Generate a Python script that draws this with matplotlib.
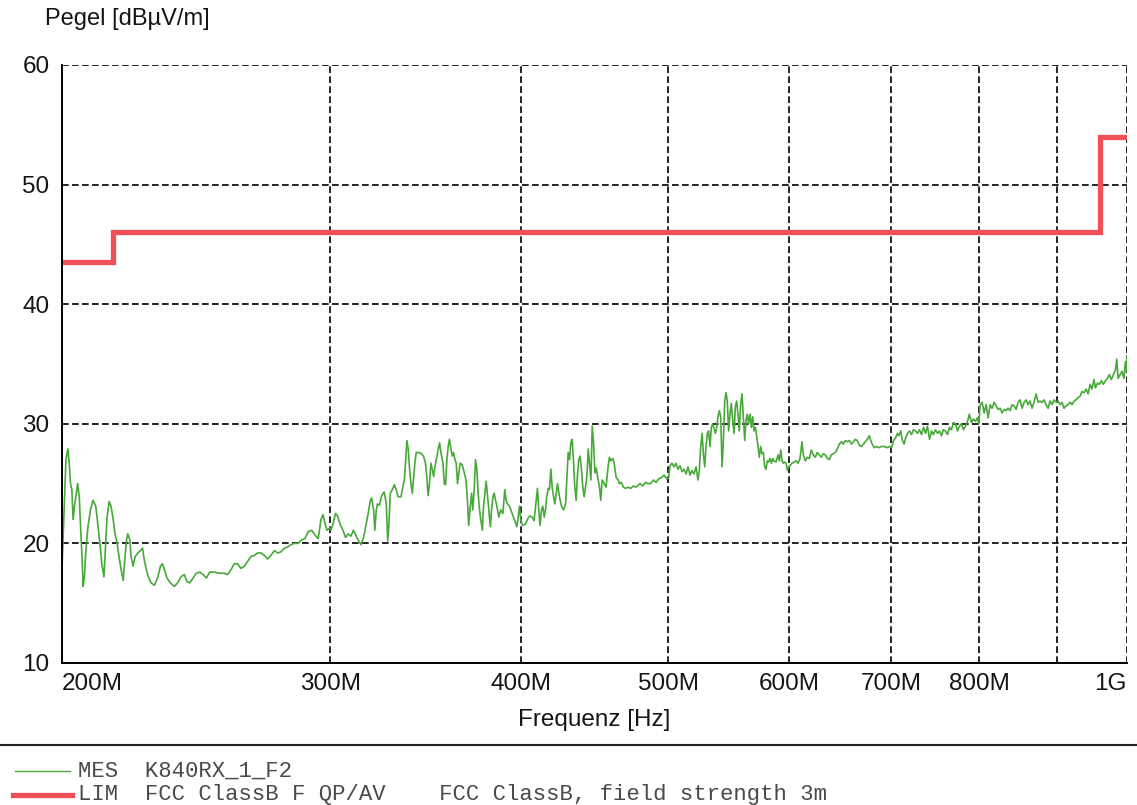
import matplotlib
matplotlib.use("Agg")
import matplotlib.pyplot as plt
from matplotlib.lines import Line2D
from matplotlib.ticker import NullLocator

plt.rcParams['font.family'] = ['Liberation Sans', 'DejaVu Sans']

# measured field strength (MHz, dBuV/m), split by frequency band
mes_200_300 = [
    (200.0, 17.8), (200.4, 20.9), (200.8, 23.9), (201.2, 27.0), (201.8, 27.9), (202.2, 26.7),
    (202.6, 25.0), (203.0, 24.5), (203.4, 22.0), (203.8, 23.1), (204.4, 24.2), (204.8, 25.0),
    (205.3, 23.9), (205.7, 21.4), (206.1, 19.2), (206.5, 16.4), (206.9, 17.2), (207.3, 19.2),
    (208.0, 21.4), (208.8, 22.8), (209.6, 23.6), (210.5, 23.1), (211.1, 21.7), (211.8, 20.0),
    (212.4, 18.3), (213.1, 17.2), (213.5, 19.2), (214.1, 22.2), (214.8, 23.5), (215.4, 23.1),
    (216.1, 22.0), (216.7, 20.8), (217.4, 20.0), (218.0, 18.9), (218.7, 17.8), (219.4, 16.9),
    (219.8, 18.3), (220.5, 20.3), (220.9, 20.8), (221.6, 20.3), (222.0, 18.9), (222.7, 18.1),
    (223.4, 18.9), (224.3, 19.2), (225.2, 19.4), (225.9, 19.6), (226.5, 18.6), (227.2, 17.8),
    (227.9, 17.2), (228.8, 16.7), (230.0, 16.5), (231.2, 17.2), (232.1, 18.1), (232.8, 18.3),
    (233.5, 17.8), (234.4, 17.1), (235.6, 16.7), (237.0, 16.4), (238.2, 16.7), (239.4, 17.2),
    (240.6, 17.4), (241.6, 16.8), (242.6, 16.7), (243.8, 17.1), (245.0, 17.5), (246.3, 17.6),
    (247.5, 17.4), (248.8, 17.1), (250.0, 17.6), (251.8, 17.6), (253.8, 17.5), (255.6, 17.5),
    (256.9, 17.4), (258.2, 17.8), (259.5, 18.3), (260.8, 18.3), (262.1, 17.9), (263.5, 18.1),
    (264.8, 18.5), (266.1, 18.9), (267.5, 19.0), (268.8, 19.2), (270.2, 19.2), (271.5, 19.0),
    (272.9, 18.7), (274.3, 19.0), (275.7, 19.4), (277.1, 19.2), (278.5, 19.3), (279.9, 19.6),
    (281.3, 19.7), (282.7, 19.9), (284.1, 20.0), (285.8, 20.0), (287.3, 20.3), (288.7, 20.4),
    (290.2, 21.0), (291.7, 21.1), (293.1, 20.7), (294.6, 20.4), (295.8, 22.0), (296.7, 22.4),
    (297.6, 21.7), (298.5, 21.1), (299.7, 21.3),
]

mes_300_450 = [
    (300.3, 21.1), (301.2, 21.6), (302.4, 22.5), (303.3, 22.3), (304.5, 21.6), (305.8, 21.1),
    (307.0, 20.5), (308.3, 20.8), (309.5, 20.6), (310.7, 21.1), (312.0, 20.6), (313.2, 20.2),
    (314.2, 19.9), (315.5, 20.5), (316.7, 21.6), (317.7, 22.5), (318.6, 23.5), (319.3, 23.8),
    (320.3, 22.8), (320.9, 21.1), (321.6, 22.8), (322.2, 23.3), (323.2, 23.2), (323.9, 23.8),
    (324.9, 24.2), (325.5, 24.3), (326.5, 23.3), (327.2, 20.2), (327.8, 21.6), (328.5, 24.2),
    (329.5, 24.5), (330.5, 24.9), (331.4, 24.5), (332.4, 23.9), (333.8, 23.9), (334.8, 24.7),
    (335.5, 25.3), (336.1, 26.7), (336.8, 28.6), (337.5, 27.9), (338.2, 26.2), (338.9, 25.0),
    (339.6, 24.2), (340.3, 25.6), (340.9, 26.7), (341.6, 27.6), (343.0, 27.6), (344.3, 27.5),
    (345.4, 27.3), (346.4, 26.7), (347.1, 25.6), (347.8, 24.0), (348.5, 25.0), (349.3, 26.7),
    (350.0, 26.2), (350.7, 25.6), (351.4, 26.4), (352.1, 27.0), (353.2, 27.9), (353.9, 28.4),
    (354.6, 27.6), (355.7, 26.7), (356.4, 25.0), (357.1, 24.9), (357.8, 27.0), (358.5, 28.1),
    (359.2, 28.7), (360.0, 27.9), (360.7, 27.3), (361.4, 27.6), (362.2, 27.0), (362.9, 26.7),
    (363.6, 25.0), (364.3, 25.9), (365.1, 26.7), (366.1, 26.6), (367.2, 26.0), (368.3, 25.3),
    (369.1, 23.6), (369.8, 21.5), (370.5, 22.8), (371.4, 24.2), (372.1, 22.8), (372.9, 24.5),
    (373.6, 27.0), (374.4, 26.2), (375.1, 24.2), (375.9, 22.8), (376.7, 21.9), (377.5, 21.1),
    (378.2, 23.1), (379.0, 24.2), (379.7, 25.2), (380.5, 23.9), (381.2, 22.8), (382.1, 21.4),
    (382.8, 22.8), (383.6, 23.9), (384.3, 24.2), (385.1, 23.6), (385.9, 23.1), (387.0, 22.2),
    (388.2, 22.8), (389.4, 22.5), (390.5, 24.5), (391.3, 23.6), (392.1, 23.3), (393.3, 23.1),
    (394.9, 22.5), (396.5, 21.9), (397.7, 21.4), (398.5, 22.2), (399.3, 23.1), (400.1, 21.9),
    (401.3, 21.5), (402.9, 21.6), (404.5, 22.1), (405.7, 22.3), (407.0, 22.2), (408.2, 21.9),
    (409.5, 23.6), (410.3, 24.6), (411.1, 22.8), (411.9, 21.5), (412.8, 22.8), (413.6, 23.1),
    (414.5, 22.2), (415.3, 22.8), (416.1, 23.9), (417.0, 24.6), (417.8, 24.5), (418.7, 26.2),
    (419.5, 24.7), (420.4, 23.9), (421.2, 23.3), (422.1, 24.2), (422.9, 25.0), (423.8, 24.2),
    (424.6, 23.6), (425.5, 23.1), (426.8, 22.8), (428.1, 23.3), (429.0, 25.6), (429.8, 27.6),
    (430.7, 27.0), (431.5, 28.4), (432.4, 28.7), (433.2, 27.0), (434.1, 24.7), (435.0, 23.6),
    (435.8, 25.6), (436.7, 27.0), (437.6, 27.3), (438.5, 26.2), (439.4, 24.7), (440.3, 23.9),
    (441.2, 24.7), (442.1, 25.6), (443.0, 27.9), (443.8, 26.7), (444.8, 25.3), (445.7, 29.8),
    (446.6, 28.4), (447.5, 25.9), (448.4, 26.3), (449.3, 25.6), (450.6, 24.7), (451.5, 23.6),
]

mes_450_680 = [
    (452.4, 25.3), (453.8, 25.0), (455.1, 24.7), (456.5, 26.4), (457.4, 27.2), (458.4, 26.9),
    (459.8, 27.1), (460.7, 26.7), (462.1, 25.5), (463.5, 25.3), (464.4, 25.0), (465.8, 25.1),
    (467.2, 24.7), (468.6, 24.6), (470.5, 24.7), (472.4, 24.6), (474.3, 24.8), (475.7, 24.7),
    (477.2, 24.8), (479.1, 25.0), (481.0, 24.8), (483.0, 25.1), (484.9, 25.0), (486.9, 25.0),
    (488.9, 25.3), (490.8, 25.1), (492.8, 25.4), (494.8, 25.5), (496.8, 25.7), (498.8, 25.4),
    (500.3, 25.5), (501.3, 26.5), (502.8, 26.7), (504.3, 26.4), (505.8, 26.7), (507.4, 26.2),
    (508.9, 26.5), (510.5, 26.0), (512.1, 26.2), (513.6, 25.8), (515.1, 26.4), (516.7, 25.7),
    (518.2, 26.1), (519.8, 25.8), (521.4, 26.4), (522.9, 25.3), (524.0, 26.1), (525.1, 28.1),
    (526.2, 29.2), (527.2, 27.5), (528.3, 26.4), (529.3, 28.1), (530.4, 29.2), (531.4, 29.4),
    (532.5, 28.1), (533.6, 29.7), (534.7, 30.0), (535.8, 29.6), (536.9, 29.2), (537.9, 29.7),
    (539.0, 30.6), (540.1, 31.1), (541.2, 30.6), (542.3, 26.4), (543.4, 28.6), (544.5, 31.9),
    (545.6, 32.6), (546.6, 31.9), (547.7, 29.4), (548.8, 30.8), (549.9, 31.7), (551.1, 30.3),
    (552.2, 29.2), (553.3, 31.4), (554.4, 31.9), (555.5, 30.8), (556.6, 29.4), (557.8, 31.7),
    (558.9, 32.5), (560.0, 30.6), (561.2, 28.6), (562.3, 30.3), (563.4, 30.8), (564.5, 30.0),
    (565.7, 30.8), (566.9, 29.7), (568.0, 30.6), (569.1, 29.4), (570.3, 29.7), (571.4, 29.0),
    (572.6, 28.1), (573.7, 27.2), (574.9, 28.1), (576.1, 27.5), (577.2, 27.6), (578.4, 26.4),
    (579.5, 26.2), (580.7, 26.9), (581.8, 26.8), (583.0, 27.1), (584.3, 26.7), (585.5, 27.1),
    (586.6, 26.9), (588.4, 26.8), (590.2, 27.4), (591.3, 26.9), (592.6, 27.8), (593.8, 26.9),
    (595.0, 26.7), (596.2, 26.8), (597.4, 26.7), (598.6, 26.1), (599.8, 26.4), (600.9, 26.5),
    (602.8, 26.7), (604.6, 26.8), (606.4, 26.9), (608.3, 26.7), (610.1, 27.1), (611.9, 28.5),
    (613.2, 27.4), (615.0, 26.9), (616.8, 27.2), (618.7, 27.1), (620.6, 27.8), (622.5, 27.4),
    (624.4, 27.2), (626.2, 27.6), (628.1, 27.4), (630.1, 27.2), (632.0, 27.5), (633.9, 27.4),
    (635.8, 27.1), (637.7, 27.0), (639.7, 27.4), (641.7, 27.5), (643.6, 27.6), (645.5, 27.9),
    (647.5, 28.3), (649.5, 28.5), (651.4, 28.3), (653.4, 28.6), (655.3, 28.5), (657.3, 28.6),
    (659.4, 28.3), (661.3, 28.5), (663.3, 28.7), (665.3, 28.6), (667.4, 28.2), (669.4, 28.1),
    (671.4, 28.3), (673.4, 28.5), (675.4, 28.7), (677.4, 29.0),
]

mes_680_1000 = [
    (679.0, 28.6), (680.4, 28.3), (682.4, 28.0), (684.6, 28.1), (687.3, 28.0), (690.1, 28.1),
    (692.8, 28.1), (695.7, 28.0), (698.5, 28.1), (700.6, 28.0), (702.7, 28.6), (704.8, 28.8),
    (706.9, 29.2), (708.3, 29.0), (710.5, 29.4), (711.9, 28.7), (714.0, 28.3), (715.6, 28.8),
    (717.8, 29.2), (719.9, 29.4), (722.1, 29.1), (724.2, 29.5), (726.5, 29.4), (728.7, 29.2),
    (730.9, 29.5), (733.1, 29.1), (735.3, 29.7), (737.5, 29.2), (739.7, 29.8), (742.0, 28.7),
    (744.2, 29.4), (746.4, 29.1), (748.7, 29.5), (751.0, 29.2), (753.2, 29.4), (755.5, 29.0),
    (757.7, 29.5), (760.1, 29.4), (762.4, 29.1), (764.7, 29.7), (767.0, 29.5), (769.3, 30.1),
    (771.7, 30.0), (774.0, 29.4), (776.4, 29.8), (778.7, 30.0), (781.0, 29.5), (783.4, 29.8),
    (785.8, 30.2), (788.1, 30.8), (790.5, 30.1), (792.9, 30.4), (795.4, 30.2), (797.8, 30.5),
    (799.4, 30.0), (801.0, 31.6), (803.4, 31.8), (805.8, 30.9), (808.3, 31.6), (810.7, 30.5),
    (813.2, 31.6), (815.6, 31.3), (818.1, 31.8), (820.6, 31.5), (823.1, 31.2), (825.6, 31.3),
    (828.0, 30.9), (830.5, 31.2), (833.0, 31.1), (835.5, 31.3), (838.1, 31.1), (840.6, 31.6),
    (843.1, 31.5), (845.7, 31.2), (848.3, 31.8), (850.8, 32.0), (853.4, 31.3), (856.0, 31.8),
    (858.6, 32.0), (861.2, 31.6), (863.7, 31.9), (866.3, 31.3), (868.9, 31.8), (871.7, 32.5),
    (874.3, 31.8), (876.9, 31.9), (879.6, 31.8), (882.2, 32.0), (884.9, 31.6), (887.6, 31.3),
    (890.2, 31.9), (892.9, 31.6), (895.6, 32.0), (898.4, 31.8), (901.1, 31.9), (903.8, 31.6),
    (906.5, 31.8), (909.2, 31.3), (912.1, 31.5), (914.9, 31.6), (917.6, 31.8), (920.4, 31.6),
    (923.1, 31.9), (925.9, 32.0), (928.7, 32.2), (931.5, 32.3), (934.3, 32.7), (937.1, 32.6),
    (940.0, 32.9), (942.9, 32.5), (945.7, 33.3), (948.5, 32.9), (951.4, 33.7), (953.4, 33.0),
    (956.3, 33.4), (959.2, 33.3), (962.0, 33.6), (964.9, 33.3), (967.9, 33.6), (970.8, 33.8),
    (973.7, 34.1), (976.7, 33.7), (979.6, 34.1), (982.6, 34.5), (984.6, 35.4), (986.6, 33.8),
    (989.5, 34.1), (992.5, 34.4), (995.5, 33.8), (997.6, 35.2), (999.0, 34.4), (1000.0, 35.7),
]

# FCC class B limit, 3 m (band edges in MHz, level in dBuV/m)
lim_edges = [200, 216, 960, 1000]
lim_levels = [43.5, 46.0, 54.0]

x_ticks = [200, 300, 400, 500, 600, 700, 800, 900, 1000]
x_tick_labels = ['200M', '300M', '400M', '500M', '600M', '700M', '800M', '', '1G']
y_ticks = [10, 20, 30, 40, 50, 60]

mes = mes_200_300 + mes_300_450 + mes_450_680 + mes_680_1000
freq = [p[0] for p in mes]
level = [p[1] for p in mes]

fig = plt.figure(figsize=(11.37, 8.05), dpi=100)
ax = fig.add_axes([0.0545, 0.1764, 0.9367, 0.7429])

ax.set_xscale('log')
ax.set_xlim(200, 1000)
ax.set_ylim(10, 60)
ax.set_axisbelow(True)
ax.grid(True, which='major', color='black', linestyle=(0, (4, 2)), linewidth=1.2)

ax.plot(freq, level, color='#48a83a', linewidth=1.2)
ax.stairs(lim_levels, lim_edges, baseline=None, color='#ef5058', linewidth=3.8)

ax.xaxis.set_minor_locator(NullLocator())
ax.set_xticks(x_ticks)
ax.set_xticklabels(x_tick_labels)
ax.set_yticks(y_ticks)
ax.tick_params(length=0, labelsize=17.5, colors='#151515')
ax.tick_params(axis='y', pad=9)
ax.tick_params(axis='x', pad=7)
labels = ax.get_xticklabels()
labels[0].set_ha('left')
labels[-1].set_ha('right')

for side in ('top', 'right'):
    ax.spines[side].set_visible(False)
for side in ('left', 'bottom'):
    ax.spines[side].set_linewidth(1.4)
    ax.spines[side].set_color('black')

fig.text(0.0396, 0.969, 'Pegel [dB\u00b5V/m]', fontsize=17, va='baseline', color='#151515')
fig.text(0.5229, 0.098, 'Frequenz [Hz]', fontsize=17.5, ha='center', va='baseline', color='#151515')

# footer with the trace legend
fig.add_artist(Line2D([0, 1], [0.0745, 0.0745], color='#222222', linewidth=1.5))
fig.add_artist(Line2D([0.013, 0.062], [0.0422, 0.0422], color='#48a83a', linewidth=1.0))
fig.add_artist(Line2D([0.011, 0.063], [0.0124, 0.0124], color='#ef5058', linewidth=3.8))
fig.text(0.0686, 0.0348, 'MES  K840RX_1_F2', family='Liberation Mono',
         fontsize=16, color='#4a4a4a', va='baseline')
fig.text(0.0686, 0.0062, 'LIM  FCC ClassB F QP/AV    FCC ClassB, field strength 3m',
         family='Liberation Mono', fontsize=16, color='#4a4a4a', va='baseline')

fig.savefig('out.png', dpi=100)
